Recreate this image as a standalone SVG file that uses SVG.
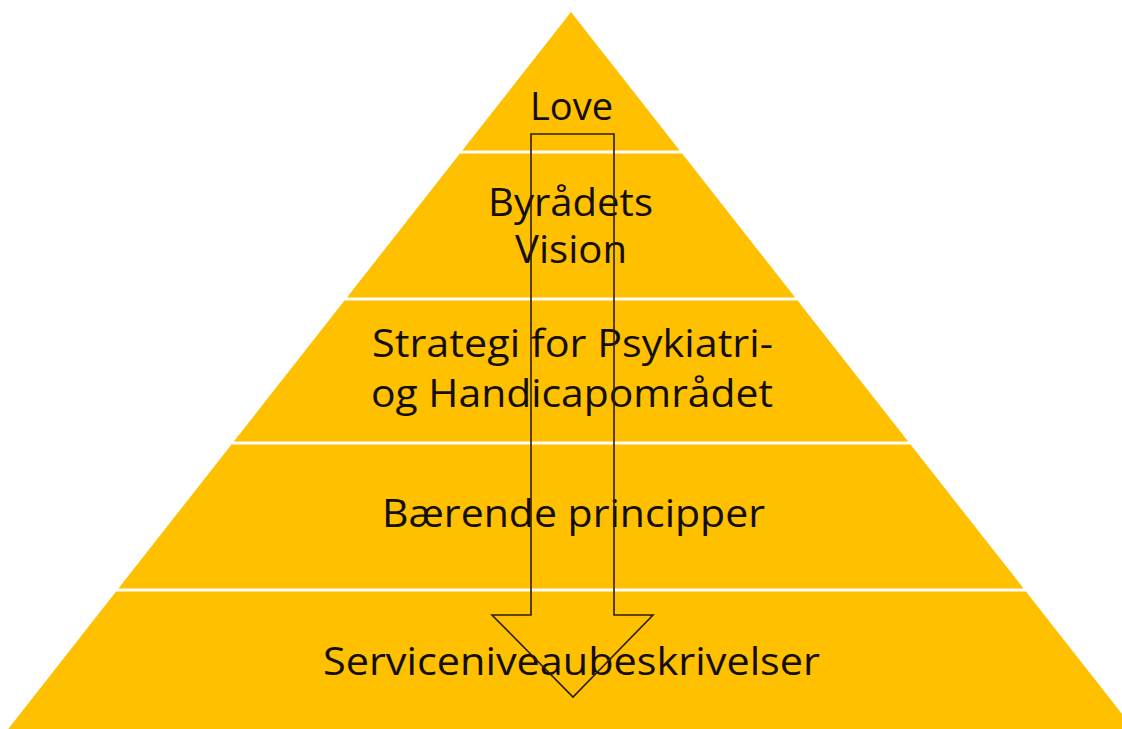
<svg xmlns="http://www.w3.org/2000/svg" width="1122" height="729" viewBox="0 0 1122 729">
<style>
.band{fill:#FFC000;}
.lbl{font-family:"Open Sans","Liberation Sans",sans-serif;font-size:39px;fill:#140e00;}
.arrow{fill:none;stroke:#2a1e00;stroke-width:1.6;stroke-linejoin:miter;}
</style>
<rect width="1122" height="729" fill="#ffffff"/>
<g id="level-love">
<polygon class="band" points="571,12 679.7,150.5 462.3,150.5"/>
<text class="lbl" x="530" y="120" textLength="83" lengthAdjust="spacingAndGlyphs">Love</text>
</g>
<g id="level-vision">
<polygon class="band" points="459.9,153.5 682.1,153.5 795.1,297.5 346.9,297.5"/>
<text class="lbl" x="488" y="216" textLength="165" lengthAdjust="spacingAndGlyphs">Byrådets</text>
<text class="lbl" x="515" y="263" textLength="112" lengthAdjust="spacingAndGlyphs">Vision</text>
</g>
<g id="level-strategi">
<polygon class="band" points="344.5,300.5 797.5,300.5 908.2,441.5 233.8,441.5"/>
<text class="lbl" x="372" y="357" textLength="401" lengthAdjust="spacingAndGlyphs">Strategi for Psykiatri-</text>
<text class="lbl" x="371" y="407" textLength="402" lengthAdjust="spacingAndGlyphs">og Handicapområdet</text>
</g>
<g id="level-principper">
<polygon class="band" points="231.5,444.5 910.5,444.5 1023.6,588.5 118.4,588.5"/>
<text class="lbl" x="382" y="527" textLength="383" lengthAdjust="spacingAndGlyphs">Bærende principper</text>
</g>
<g id="level-service">
<polygon class="band" points="116.1,591.5 1025.9,591.5 1133.8,729 8.2,729"/>
<text class="lbl" x="323" y="675" textLength="497" lengthAdjust="spacingAndGlyphs">Serviceniveaubeskrivelser</text>
</g>
<g id="connectors">
<polygon class="arrow" points="531,134 614,134 614,615 653,615 573,697 492,615 531,615"/>
</g>
</svg>
